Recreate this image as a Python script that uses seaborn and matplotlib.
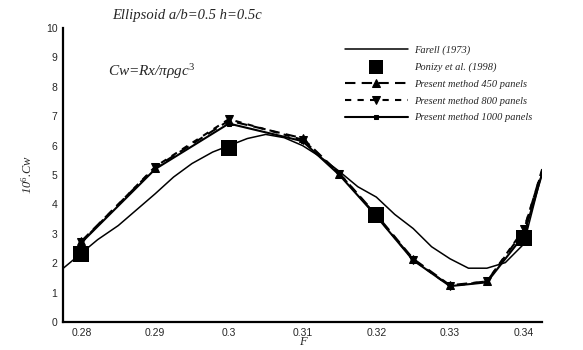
import numpy as np
import pandas as pd
import matplotlib
matplotlib.use("Agg")
import matplotlib.pyplot as plt
import seaborn as sns
from matplotlib.ticker import MultipleLocator, FixedLocator, FixedFormatter

# ---- data ----
farell_F = [0.2775, 0.2822, 0.285, 0.29, 0.2925, 0.295, 0.2978, 0.3025, 0.305, 0.3075,
            0.31, 0.3125, 0.315, 0.3175, 0.32, 0.3225, 0.325, 0.3275, 0.33, 0.3325,
            0.335, 0.3375, 0.34, 0.3425]
farell_Cw = [1.82, 2.8, 3.28, 4.36, 4.93, 5.39, 5.78, 6.24, 6.38, 6.27,
             6.0, 5.6, 5.12, 4.6, 4.25, 3.66, 3.18, 2.56, 2.15, 1.83,
             1.83, 2.02, 2.65, 5.1]

ponizy_F = [0.28, 0.30, 0.32, 0.34]
ponizy_Cw = [2.3, 5.92, 3.65, 2.85]

present_F = [0.28, 0.29, 0.30, 0.31, 0.315, 0.32, 0.325, 0.33, 0.335, 0.34, 0.3425]
p450_Cw = [2.75, 5.25, 6.85, 6.25, 5.05, 3.65, 2.15, 1.25, 1.38, 3.1, 5.2]
p800_Cw = [2.72, 5.28, 6.9, 6.2, 5.05, 3.62, 2.12, 1.22, 1.38, 3.15, 5.15]
p1000_Cw = [2.7, 5.2, 6.75, 6.15, 5.0, 3.6, 2.1, 1.22, 1.35, 2.95, 5.05]

xticks = [0.28, 0.29, 0.30, 0.31, 0.32, 0.33, 0.34]
xticklabels = ["0.28", "0.29", "0.3", "0.31", "0.32", "0.33", "0.34"]

labels = ["Farell (1973)", "Ponizy et al. (1998)", "Present method 450 panels",
          "Present method 800 panels", "Present method 1000 panels"]

sns.set_theme(style="white")
plt.rcParams['font.family'] = ['Liberation Sans', 'DejaVu Sans']
plt.rcParams['mathtext.fontset'] = 'custom'
plt.rcParams['mathtext.rm'] = 'Liberation Serif'
plt.rcParams['mathtext.it'] = 'Liberation Serif:italic'

fig = plt.figure(figsize=(5.83, 3.5), dpi=100)
ax = fig.add_axes([0.108, 0.08, 0.822, 0.84])

serif = dict(family=['Liberation Serif', 'DejaVu Serif'], style='italic')

df_f = pd.DataFrame({"F": farell_F, "Cw": farell_Cw})
sns.lineplot(data=df_f, x="F", y="Cw", ax=ax, color="black", lw=1.1, label=labels[0],
             sort=False)

df_p = pd.DataFrame({"F": ponizy_F, "Cw": ponizy_Cw})
sns.scatterplot(data=df_p, x="F", y="Cw", ax=ax, color="black", marker="s", s=125,
                edgecolor="black", linewidth=0, label=labels[1], zorder=5)

mk = dict(markeredgecolor="black", markerfacecolor="black", markevery=list(range(10)))
df450 = pd.DataFrame({"F": present_F, "Cw": p450_Cw})
sns.lineplot(data=df450, x="F", y="Cw", ax=ax, color="black", lw=1.5, ls=(0, (5, 3)),
             marker="^", markersize=5.5, label=labels[2], **mk)
df800 = pd.DataFrame({"F": present_F, "Cw": p800_Cw})
sns.lineplot(data=df800, x="F", y="Cw", ax=ax, color="black", lw=1.5, ls=(0, (3, 3)),
             marker="v", markersize=5.5, label=labels[3], **mk)
df1000 = pd.DataFrame({"F": present_F, "Cw": p1000_Cw})
sns.lineplot(data=df1000, x="F", y="Cw", ax=ax, color="black", lw=1.5, ls="-",
             marker="s", markersize=3, label=labels[4], **mk)

ax.set_xlim(0.2775, 0.3425)
ax.set_ylim(0, 10)
ax.xaxis.set_major_locator(FixedLocator(xticks))
ax.xaxis.set_major_formatter(FixedFormatter(xticklabels))
ax.xaxis.set_minor_locator(MultipleLocator(0.0025))
ax.yaxis.set_major_locator(MultipleLocator(1))
ax.yaxis.set_minor_locator(MultipleLocator(0.2))
ax.tick_params(which='both', direction='in', color='black', width=1.2)
ax.tick_params(which='major', length=6, labelsize=7.5, pad=4)
ax.tick_params(which='minor', length=3)
for s in ['top', 'right']:
    ax.spines[s].set_visible(False)
for s in ['left', 'bottom']:
    ax.spines[s].set_color('black')
    ax.spines[s].set_linewidth(1.6)

ax.set_xlabel("F", fontsize=9, labelpad=-1, **serif)
ax.set_ylabel(r"10$^{6}$.Cw", fontsize=9, labelpad=8, **serif)

fig.text(0.192, 0.955, "Ellipsoid a/b=0.5 h=0.5c", fontsize=10.5, va='center', ha='left', **serif)
fig.text(0.185, 0.795, r"Cw=Rx/πρgc$^{3}$", fontsize=11, va='center', ha='left', **serif)

leg = ax.legend(loc='upper left', bbox_to_anchor=(0.58, 0.955), frameon=False,
                prop=dict(family=['Liberation Serif', 'DejaVu Serif'], style='italic', size=7.5),
                handlelength=6, handletextpad=0.6, labelspacing=0.72, borderaxespad=0)
for h in leg.legend_handles:
    try:
        h.set_sizes([90])
    except Exception:
        pass

fig.savefig("out.png", dpi=100)
